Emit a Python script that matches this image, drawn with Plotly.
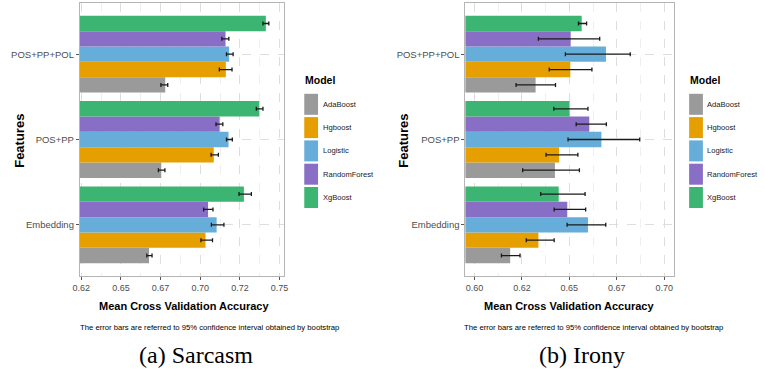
import plotly.graph_objects as go

W, H = 765, 377

features = ["Embedding", "POS+PP", "POS+PP+POL"]
models = ["AdaBoost", "Hgboost", "Logistic", "RandomForest", "XgBoost"]
colors = ["#9a9a9a", "#e69f00", "#66aed9", "#886ec4", "#3cb572"]

# Sarcasm: mean, lower CI, upper CI (order of features)
sar_ada = [0.6677, 0.6754, 0.6779]
sar_ada_lo = [0.6663, 0.6736, 0.6752]
sar_ada_hi = [0.6696, 0.6777, 0.6795]
sar_hg = [0.7033, 0.7085, 0.7161]
sar_hg_lo = [0.7004, 0.7068, 0.7120]
sar_hg_hi = [0.7077, 0.7114, 0.7200]
sar_log = [0.7103, 0.7178, 0.7182]
sar_log_lo = [0.7070, 0.7165, 0.7165]
sar_log_hi = [0.7149, 0.7202, 0.7207]
sar_rf = [0.7049, 0.7122, 0.7159]
sar_rf_lo = [0.7021, 0.7099, 0.7136]
sar_rf_hi = [0.7080, 0.7142, 0.7180]
sar_xg = [0.7275, 0.7372, 0.7413]
sar_xg_lo = [0.7244, 0.7353, 0.7395]
sar_xg_hi = [0.7322, 0.7395, 0.7432]

# Irony
iro_ada = [0.6188, 0.6424, 0.6322]
iro_ada_lo = [0.6142, 0.6254, 0.6219]
iro_ada_hi = [0.6240, 0.6553, 0.6427]
iro_hg = [0.6337, 0.6446, 0.6505]
iro_hg_lo = [0.6273, 0.6377, 0.6394]
iro_hg_hi = [0.6420, 0.6545, 0.6619]
iro_log = [0.6598, 0.6669, 0.6693]
iro_log_lo = [0.6488, 0.6493, 0.6479]
iro_log_hi = [0.6692, 0.6871, 0.6821]
iro_rf = [0.6489, 0.6605, 0.6507]
iro_rf_lo = [0.6420, 0.6536, 0.6337]
iro_rf_hi = [0.6586, 0.6695, 0.6660]
iro_xg = [0.6444, 0.6501, 0.6565]
iro_xg_lo = [0.6349, 0.6418, 0.6548]
iro_xg_hi = [0.6583, 0.6598, 0.6591]

sar_tickvals = [0.625, 0.65, 0.675, 0.70, 0.725, 0.75]
sar_ticktext = ["0.62", "0.65", "0.67", "0.70", "0.72", "0.75"]
iro_tickvals = [0.60, 0.625, 0.65, 0.675, 0.70]
iro_ticktext = ["0.60", "0.62", "0.65", "0.67", "0.70"]

sar = [(sar_ada, sar_ada_lo, sar_ada_hi), (sar_hg, sar_hg_lo, sar_hg_hi),
       (sar_log, sar_log_lo, sar_log_hi), (sar_rf, sar_rf_lo, sar_rf_hi),
       (sar_xg, sar_xg_lo, sar_xg_hi)]
iro = [(iro_ada, iro_ada_lo, iro_ada_hi), (iro_hg, iro_hg_lo, iro_hg_hi),
       (iro_log, iro_log_lo, iro_log_hi), (iro_rf, iro_rf_lo, iro_rf_hi),
       (iro_xg, iro_xg_lo, iro_xg_hi)]

SANS = "'Liberation Sans', Arial, sans-serif"
SERIF = "'Liberation Serif', 'Times New Roman', serif"

def px(x):
    return x / W

def py(y):
    return 1 - y / H

fig = go.Figure()

for data, xa, ya in [(sar, "x", "y"), (iro, "x2", "y2")]:
    for m, c, (v, lo, hi) in zip(models, colors, data):
        fig.add_trace(go.Bar(
            y=features, x=v, orientation="h", name=m,
            marker=dict(color=c, line=dict(width=0)),
            error_x=dict(type="data", symmetric=False,
                         array=[h - a for h, a in zip(hi, v)],
                         arrayminus=[a - l for a, l in zip(v, lo)],
                         color="#1a1a1a", thickness=1.3, width=2),
            xaxis=xa, yaxis=ya, showlegend=False))

ydom = [py(276), py(3)]
common_x = dict(showline=True, mirror=True, linecolor="#b5b5b5", linewidth=1,
                ticks="outside", ticklen=3, tickcolor="#555", tickwidth=1,
                showgrid=True, gridcolor="#dedede", griddash="dash", gridwidth=1,
                zeroline=False,
                tickfont=dict(family=SANS, size=9, color="#4d4d4d"))
common_y = dict(showline=True, mirror=True, linecolor="#b5b5b5", linewidth=1,
                ticks="outside", ticklen=3, tickcolor="#555", tickwidth=1,
                showgrid=True, gridcolor="#dedede", griddash="dash", gridwidth=1,
                type="category", categoryorder="array", categoryarray=features,
                range=[-0.6, 2.6], domain=ydom,
                tickfont=dict(family=SANS, size=9.5, color="#4d4d4d"))

fig.update_layout(
    width=W, height=H, margin=dict(l=0, r=0, t=0, b=0),
    paper_bgcolor="white", plot_bgcolor="white",
    barmode="group", bargap=0.1, bargroupgap=0,
    xaxis=dict(common_x, domain=[px(74), px(281)], range=[0.6241, 0.7525],
               tickvals=sar_tickvals, ticktext=sar_ticktext,
               minor=dict(dtick=0.0125, tick0=0.625, showgrid=True, gridcolor="#efefef",
                          griddash="dash", ticks="")),
    yaxis=dict(common_y, anchor="x"),
    xaxis2=dict(common_x, domain=[px(465.7), px(677.7)], range=[0.5952, 0.7052],
                tickvals=iro_tickvals, ticktext=iro_ticktext, anchor="y2",
                minor=dict(dtick=0.0125, tick0=0.6, showgrid=True, gridcolor="#efefef",
                           griddash="dash", ticks="")),
    yaxis2=dict(common_y, anchor="x2"),
)

ann = []
shapes = []
foot = "The error bars are referred to 95% confidence interval obtained by bootstrap"
for (feat_x, title_cx, foot_cx, leg_x, lab_x, cap_x, cap) in [
        (12, 180, 205.5, 302, 320, 192, "(a) Sarcasm"),
        (402, 571, 595.5, 693, 710, 584, "(b) Irony")]:
    ann.append(dict(text="<b>Features</b>", x=px(feat_x), y=py(141), xref="paper", yref="paper",
                    textangle=-90, showarrow=False, xanchor="center", yanchor="middle",
                    font=dict(family=SANS, size=13, color="#000")))
    ann.append(dict(text="<b>Mean Cross Validation Accuracy</b>", x=px(title_cx), y=py(306),
                    xref="paper", yref="paper", showarrow=False, xanchor="center", yanchor="middle",
                    font=dict(family=SANS, size=11, color="#000")))
    ann.append(dict(text=foot, x=px(foot_cx), y=py(327), xref="paper", yref="paper",
                    showarrow=False, xanchor="center", yanchor="middle", borderpad=0,
                    font=dict(family=SANS, size=7.7, color="#000")))
    ann.append(dict(text=cap, x=px(cap_x), y=py(355), xref="paper", yref="paper",
                    showarrow=False, xanchor="center", yanchor="middle",
                    font=dict(family=SERIF, size=24, color="#000")))
    ann.append(dict(text="<b>Model</b>", x=px(leg_x), y=py(80), xref="paper", yref="paper",
                    showarrow=False, xanchor="left", yanchor="middle", borderpad=0,
                    font=dict(family=SANS, size=10.5, color="#000")))
    for i, (m, c) in enumerate(zip(models, colors)):
        cy = 104.3 + i * 23.3
        shapes.append(dict(type="rect", xref="paper", yref="paper",
                           x0=px(leg_x), x1=px(leg_x + 14), y0=py(cy + 10.5), y1=py(cy - 10.5),
                           fillcolor=c, line=dict(width=0)))
        ann.append(dict(text=m, x=px(lab_x), y=py(cy), xref="paper", yref="paper",
                        showarrow=False, xanchor="left", yanchor="middle", borderpad=0,
                        font=dict(family=SANS, size=7.6, color="#1a1a1a")))

fig.update_layout(annotations=ann, shapes=shapes)
fig.write_html("out.html")
